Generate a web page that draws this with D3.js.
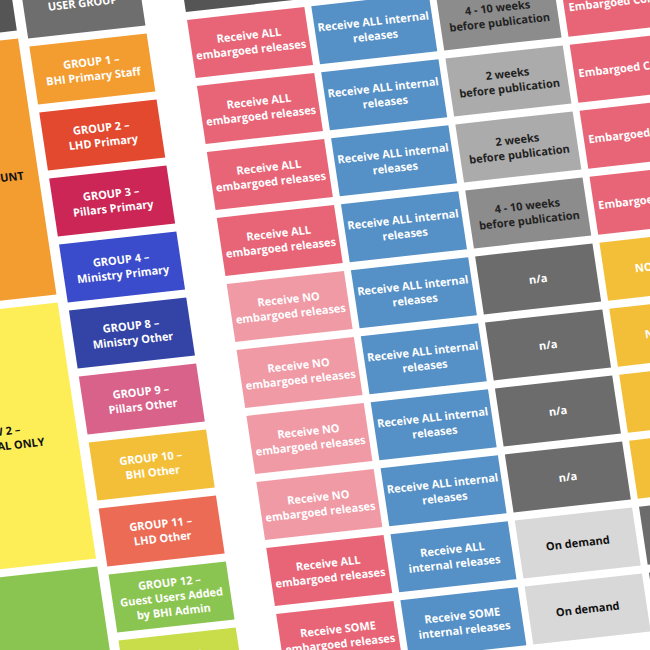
<!DOCTYPE html>
<html><head><meta charset="utf-8">
<script src="https://cdn.jsdelivr.net/npm/d3@7"></script>
<style>body{margin:0;background:#fff}svg{display:block}</style>
</head><body><svg width="650" height="650"></svg>
<script>
const groups = ["GROUP 1 –|BHI Primary Staff","GROUP 2 –|LHD Primary","GROUP 3 –|Pillars Primary","GROUP 4 –|Ministry Primary","GROUP 8 –|Ministry Other","GROUP 9 –|Pillars Other","GROUP 10 –|BHI Other","GROUP 11 –|LHD Other","GROUP 12 –|Guest Users Added|by BHI Admin","GROUP 13 –|Guest Users"];
const groupColors = ["#f39c30","#e2492f","#cb2656","#3a4bcb","#3344a6","#d9628b","#f4bf38","#ec6b55","#8bc551","#c9dd4a"];
const embargoed = ["Receive ALL|embargoed releases","Receive ALL|embargoed releases","Receive ALL|embargoed releases","Receive ALL|embargoed releases","Receive NO|embargoed releases","Receive NO|embargoed releases","Receive NO|embargoed releases","Receive NO|embargoed releases","Receive ALL|embargoed releases","Receive SOME|embargoed releases"];
const internal = ["Receive ALL internal|releases","Receive ALL internal|releases","Receive ALL internal|releases","Receive ALL internal|releases","Receive ALL internal|releases","Receive ALL internal|releases","Receive ALL internal|releases","Receive ALL internal|releases","Receive ALL|internal releases","Receive SOME|internal releases"];
const timing = ["4 - 10 weeks|before publication","2 weeks|before publication","2 weeks|before publication","4 - 10 weeks|before publication","n/a","n/a","n/a","n/a","On demand","On demand"];
const access = ["Embargoed Content","Embargoed Content","Embargoed Content","Embargoed Content","NO, never","NO, never","NO, never","NO, never","",""];
const tiers = ["ROW 1 –|EMBARGOED ACCOUNT","ROW 2 –|INTERNAL ONLY","ROW 3 –|GUEST"];
const tierRows = [[0,3],[4,7],[8,11]];
const tierColors = ["#f39c30","#fdee58","#8bc551"];

const svg = d3.select("svg");
const g = svg.append("g").attr("transform","matrix(0.994,-0.11,0.15,1.0,91,60)");
const colX = d3.scaleOrdinal().domain(["tier","group","emb","int","time","acc"]).range([-147,0,160,285,410,535]);
const colW = {tier:156,group:118,emb:118,int:118,time:118,acc:118};
const rowY = d3.scaleLinear().domain([0,1]).range([0,66]);
const H = 58;
const yOff = {group:9};

function cell(col,row,text,fill,tc,rows=1){
  const cx = colX(col), cy = rowY(row)+(yOff[col]||0);
  const h = H + rowY(rows-1);
  const top = cy - H/2;
  g.append("rect").attr("x",cx-colW[col]/2).attr("y",top).attr("width",colW[col]).attr("height",h).attr("fill",fill);
  const lines = text.split("|");
  const mid = top + h/2;
  const t = g.append("text").attr("font-family","Open Sans, sans-serif").attr("font-weight","bold").attr("font-size",11).attr("fill",tc).attr("text-anchor","middle");
  lines.forEach((l,i)=>t.append("tspan").attr("x",cx).attr("y",mid+(i-(lines.length-1)/2)*14.5+4).text(l));
}
cell("tier",-1,"",'#555','#fff');
cell("group",-1,"USER GROUP",'#6e6e6e','#fff');
["emb","int","time","acc"].forEach(c=>cell(c,-1,"",'#555','#fff'));
tiers.forEach((t,i)=>{
  const [a,b]=tierRows[i];
  cell("tier",a,t,tierColors[i],'#111',b-a+1);
});
groups.forEach((d,i)=>cell("group",i,d,groupColors[i],'#fff'));
embargoed.forEach((d,i)=>cell("emb",i,d,d.includes("NO")?"#f09aa6":"#e86577","#fff"));
internal.forEach((d,i)=>cell("int",i,d,"#5590c6","#fff"));
timing.forEach((d,i)=>{
  let f="#8c8c8c",tc="#222";
  if(d.startsWith("2 weeks")) f="#ababab";
  if(d==="n/a"){f="#6c6c6c";tc="#fff";}
  if(d==="On demand"){f="#d8d8d8";tc="#111";}
  cell("time",i,d,f,tc);
});
access.forEach((d,i)=>{
  let f = i<4?"#e86577":(i<8?"#f4bf38":"#6c6c6c");
  cell("acc",i,d,f,"#fff");
});
</script></body></html>
